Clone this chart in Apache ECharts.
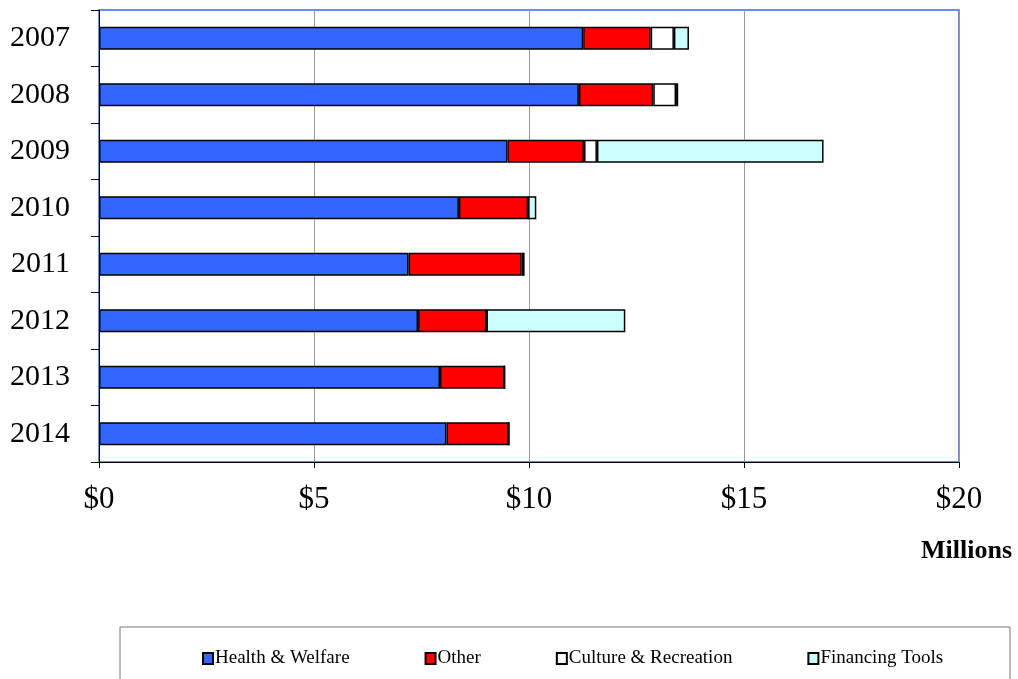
<!DOCTYPE html>
<html><head><meta charset="utf-8">
<script src="https://cdn.jsdelivr.net/npm/echarts@6/dist/echarts.min.js"></script>
<style>html,body{margin:0;padding:0;background:#fff}#c{width:1018px;height:679px}</style>
</head><body><div id="c"></div>
<script>
const years = ['2007','2008','2009','2010','2011','2012','2013','2014'];
const healthWelfare = [11.26, 11.16, 9.50, 8.37, 7.20, 7.42, 7.93, 8.08];
const other = [1.57, 1.73, 1.78, 1.61, 2.63, 1.59, 1.50, 1.45];
const cultureRecreation = [0.54, 0.53, 0.30, 0, 0.05, 0, 0, 0];
const financingTools = [0.35, 0.05, 5.27, 0.19, 0, 3.23, 0, 0];
const xTicks = ['$0','$5','$10','$15','$20'];

const font = 'Liberation Serif';
function seg(name, data, color) {
  return {
    name, type: 'bar', stack: 't', data,
    barWidth: 23,
    itemStyle: { color, borderColor: '#000', borderWidth: 1.5 },
    emphasis: { disabled: true }
  };
}
const chart = echarts.init(document.getElementById('c'));
chart.setOption({
  animation: false,
  backgroundColor: '#fff',
  grid: { left: 99, right: 59, top: 10, bottom: 217, show: true, borderColor: '#3366ff', borderWidth: 1.5, backgroundColor: 'transparent' },
  xAxis: {
    type: 'value', min: 0, max: 20, interval: 5,
    axisLine: { show: true, lineStyle: { color: '#000', width: 1 } },
    axisTick: { show: true, length: 6, lineStyle: { color: '#000' } },
    splitLine: { show: true, lineStyle: { color: '#999', width: 1 } },
    axisLabel: { margin: 22, fontFamily: font, fontSize: 31, color: '#000',
      formatter: v => xTicks[Math.round(v / 5)] }
  },
  yAxis: {
    type: 'category', data: years, inverse: true,
    axisLine: { show: true, lineStyle: { color: '#000', width: 1 } },
    axisTick: { show: true, length: 8, alignWithLabel: false, lineStyle: { color: '#000' } },
    axisLabel: { margin: 29, fontFamily: font, fontSize: 30, color: '#000' }
  },
  legend: {
    left: 197, top: 644, itemWidth: 10, itemHeight: 11, itemGap: 75,
    icon: 'rect',
    textStyle: { fontFamily: font, fontSize: 19, color: '#000', padding: [0, 0, 0, -3] },
    data: ['Health & Welfare', 'Other', 'Culture & Recreation', 'Financing Tools']
  },
  graphic: [
    { type: 'rect', shape: { x: 120, y: 627, width: 890, height: 60 }, style: { fill: 'none', stroke: '#777', lineWidth: 1 }, silent: true, z: -1 },
    { type: 'text', x: 921, y: 551, style: { text: 'Millions', fontFamily: font, fontSize: 26, fontWeight: 'bold', fill: '#000', verticalAlign: 'middle' } }
  ],
  series: [
    seg('Health & Welfare', healthWelfare, '#3366ff'),
    seg('Other', other, '#ff0000'),
    seg('Culture & Recreation', cultureRecreation, '#ffffff'),
    seg('Financing Tools', financingTools, '#ccffff')
  ]
});
</script></body></html>
